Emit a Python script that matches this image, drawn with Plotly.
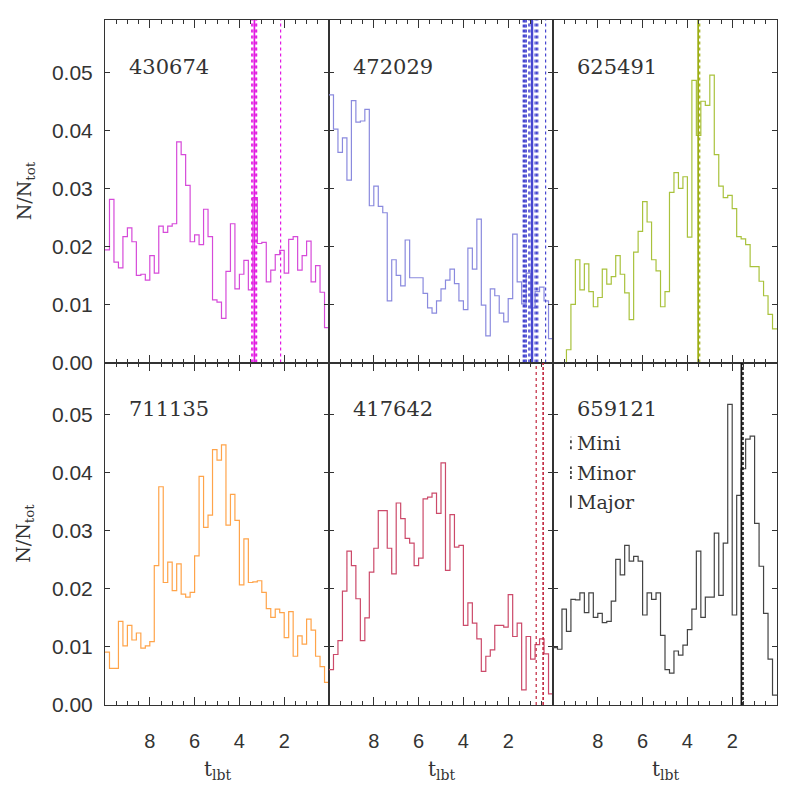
import plotly.graph_objects as go

# ---------------- data ----------------
bin_edges_start = 10.0
bin_width = 0.2

ids = ["430674", "472029", "625491", "711135", "417642", "659121"]

h_430674 = [0.0194, 0.0281, 0.0173, 0.0163, 0.0217, 0.0232, 0.0208, 0.0150, 0.0152, 0.0142,
            0.0184, 0.0154, 0.0235, 0.0224, 0.0235, 0.0239, 0.0380, 0.0358, 0.0305, 0.0208,
            0.0220, 0.0203, 0.0264, 0.0217, 0.0108, 0.0104, 0.0076, 0.0157, 0.0239, 0.0127,
            0.0152, 0.0176, 0.0125, 0.0284, 0.0205, 0.0207, 0.0139, 0.0159, 0.0186, 0.0193,
            0.0154, 0.0212, 0.0217, 0.0159, 0.0184, 0.0209, 0.0139, 0.0167, 0.0121, 0.0060]
h_472029 = [0.0461, 0.0402, 0.0362, 0.0387, 0.0314, 0.0451, 0.0414, 0.0416, 0.0436, 0.0270,
            0.0304, 0.0269, 0.0258, 0.0106, 0.0177, 0.0150, 0.0132, 0.0211, 0.0146, 0.0146,
            0.0146, 0.0119, 0.0094, 0.0085, 0.0106, 0.0127, 0.0142, 0.0161, 0.0136, 0.0106,
            0.0091, 0.0197, 0.0161, 0.0247, 0.0099, 0.0046, 0.0127, 0.0115, 0.0085, 0.0070,
            0.0110, 0.0221, 0.0139, 0.0101, 0.0154, 0.0094, 0.0122, 0.0130, 0.0106, 0.0041]
h_625491 = [0.0, 0.0, 0.0, 0.0022, 0.0100, 0.0177, 0.0125, 0.0170, 0.0122, 0.0096,
            0.0112, 0.0161, 0.0135, 0.0148, 0.0184, 0.0152, 0.0120, 0.0074, 0.0190, 0.0226,
            0.0277, 0.0242, 0.0177, 0.0158, 0.0096, 0.0122, 0.0293, 0.0327, 0.0300, 0.0320,
            0.0216, 0.0486, 0.0391, 0.0450, 0.0443, 0.0495, 0.0358, 0.0304, 0.0284, 0.0288,
            0.0265, 0.0217, 0.0213, 0.0203, 0.0165, 0.0165, 0.0140, 0.0115, 0.0083, 0.0058]
h_711135 = [0.0091, 0.0063, 0.0063, 0.0144, 0.0102, 0.0137, 0.0112, 0.0124, 0.0098, 0.0102,
            0.0109, 0.0240, 0.0376, 0.0211, 0.0246, 0.0197, 0.0243, 0.0191, 0.0186, 0.0194,
            0.0257, 0.0394, 0.0306, 0.0327, 0.0440, 0.0422, 0.0448, 0.0310, 0.0363, 0.0318,
            0.0207, 0.0286, 0.0211, 0.0212, 0.0214, 0.0194, 0.0166, 0.0151, 0.0165, 0.0159,
            0.0116, 0.0161, 0.0084, 0.0119, 0.0105, 0.0148, 0.0129, 0.0084, 0.0066, 0.0039]
h_417642 = [0.0061, 0.0087, 0.0111, 0.0196, 0.0265, 0.0240, 0.0183, 0.0111, 0.0150, 0.0229,
            0.0270, 0.0335, 0.0335, 0.0270, 0.0226, 0.0348, 0.0321, 0.0287, 0.0279, 0.0240,
            0.0253, 0.0355, 0.0358, 0.0365, 0.0330, 0.0417, 0.0232, 0.0328, 0.0272, 0.0275,
            0.0137, 0.0176, 0.0141, 0.0114, 0.0058, 0.0084, 0.0095, 0.0137, 0.0137, 0.0134,
            0.0190, 0.0118, 0.0141, 0.0026, 0.0118, 0.0079, 0.0104, 0.0114, 0.0088, 0.0019]
h_659121 = [0.0099, 0.0096, 0.0165, 0.0127, 0.0182, 0.0181, 0.0193, 0.0159, 0.0193, 0.0151,
            0.0158, 0.0142, 0.0144, 0.0179, 0.0251, 0.0224, 0.0275, 0.0248, 0.0256, 0.0248,
            0.0155, 0.0193, 0.0182, 0.0193, 0.0120, 0.0061, 0.0055, 0.0093, 0.0086, 0.0103,
            0.0130, 0.0165, 0.0265, 0.0151, 0.0186, 0.0186, 0.0296, 0.0189, 0.0279, 0.0518,
            0.0155, 0.0361, 0.0407, 0.0458, 0.0463, 0.0313, 0.0239, 0.0158, 0.0079, 0.0017]

hists = [h_430674, h_472029, h_625491, h_711135, h_417642, h_659121]

# merger look-back times per galaxy
mini_t = [[3.45, 3.40, 3.27, 3.23, 2.16],
          [1.08, 1.03, 0.80, 0.74, 0.68, 0.33],
          [3.45],
          [],
          [0.75],
          []]
minor_t = [[],
           [1.32, 1.26, 1.20],
           [],
           [],
           [0.44],
           [1.52]]
major_t = [[3.33],
           [0.95, 0.92],
           [3.52],
           [],
           [],
           [1.59]]

y_ticks = [0.00, 0.01, 0.02, 0.03, 0.04, 0.05]
x_ticks = [8, 6, 4, 2]
legend_labels = ["Mini", "Minor", "Major"]

# ---------------- styles ----------------
hist_colors = ["#d64ad9", "#8a8ade", "#a9c23c", "#ffa44a", "#cc4a6a", "#444444"]
line_colors = ["#e21ae2", "#4646d0", "#9cad12", "#ff9030", "#c0243c", "#111111"]
Y_MAX = 0.059
AX = "#333333"
SANS = "Liberation Sans"
SERIF = "DejaVu Serif"

fig = go.Figure()

col_dom = [[0.0, 1/3], [1/3, 2/3], [2/3, 1.0]]
row_dom = [[0.5, 1.0], [0.0, 0.5]]

for k in range(6):
    r, c = divmod(k, 3)
    ax = "" if k == 0 else str(k + 1)
    xa, ya = "x" + ax, "y" + ax
    vals = hists[k]
    xs = [bin_edges_start - bin_width * i for i in range(len(vals) + 1)]
    ys = list(vals) + [vals[-1]]
    fig.add_trace(go.Scatter(x=xs, y=ys, mode="lines", line=dict(color=hist_colors[k], width=1.2, shape="hv"),
                             xaxis=xa, yaxis=ya, showlegend=False, hoverinfo="skip"))
    for tlist, dash, w in ((mini_t[k], "dot", 1.2), (minor_t[k], "3px,2px", 1.6), (major_t[k], "solid", 1.7)):
        for t in tlist:
            fig.add_trace(go.Scatter(x=[t, t], y=[0, Y_MAX], mode="lines",
                                     line=dict(color=line_colors[k], width=w, dash=dash),
                                     xaxis=xa, yaxis=ya, showlegend=False, hoverinfo="skip"))
    xaxis = dict(domain=col_dom[c], anchor=ya, range=[10, 0], tickvals=x_ticks, ticks="inside", ticklen=8,
                 tickcolor=AX, tickwidth=1, mirror="allticks", showline=True, linecolor=AX, linewidth=1,
                 showgrid=False, zeroline=False, showticklabels=(r == 1), ticklabelstandoff=18,
                 tickfont=dict(family=SANS, size=20, color="#333"),
                 minor=dict(dtick=0.5, tick0=0, ticks="inside", ticklen=4, tickcolor=AX, showgrid=False))
    yaxis = dict(domain=row_dom[r], anchor=xa, range=[0, Y_MAX], tickvals=y_ticks, tickformat=".2f",
                 ticks="inside", ticklen=5, tickcolor=AX, mirror="allticks", showline=True, linecolor=AX,
                 linewidth=1, showgrid=False, zeroline=False, showticklabels=(c == 0), ticklabelstandoff=7,
                 tickfont=dict(family=SANS, size=21, color="#333"))
    fig.update_layout(**{"xaxis" + ax: xaxis, "yaxis" + ax: yaxis})
    fig.add_annotation(text=ids[k], xref=xa + " domain", yref=ya + " domain", x=0.098, y=0.864,
                       xanchor="left", yanchor="middle", showarrow=False,
                       font=dict(family=SERIF, size=21, color="#333"))
    if r == 1:
        fig.add_annotation(text="t<sub>lbt</sub>", xref=xa + " domain", yref="paper", x=0.5, y=-0.095,
                           xanchor="center", yanchor="middle", showarrow=False,
                           font=dict(family=SERIF, size=20, color="#333"))
    if c == 0:
        fig.add_annotation(text="N/N<sub>tot</sub>", xref="paper", yref=ya + " domain", x=-0.119, y=0.5,
                           xanchor="center", yanchor="middle", textangle=-90, showarrow=False,
                           font=dict(family=SERIF, size=19, color="#333"))

# legend inside last panel
leg_dash = ["dot", "3px,2px", "solid"]
leg_y = [0.765, 0.678, 0.594]
for lab, d, yy in zip(legend_labels, leg_dash, leg_y):
    fig.add_shape(type="line", xref="x6 domain", yref="y6 domain", x0=0.08, x1=0.08, y0=yy - 0.018, y1=yy + 0.018,
                  line=dict(color="#222", width=1.5, dash=d))
    fig.add_annotation(text=lab, xref="x6 domain", yref="y6 domain", x=0.098, y=yy, xanchor="left",
                       yanchor="middle", showarrow=False, font=dict(family=SERIF, size=19, color="#333"))

# the page has an 8px body margin, so the figure is sized to fit the 789px window
fig.update_layout(width=781, height=781, margin=dict(l=97, r=12, t=12, b=84),
                  paper_bgcolor="white", plot_bgcolor="white", showlegend=False)

fig.write_html("out.html")
